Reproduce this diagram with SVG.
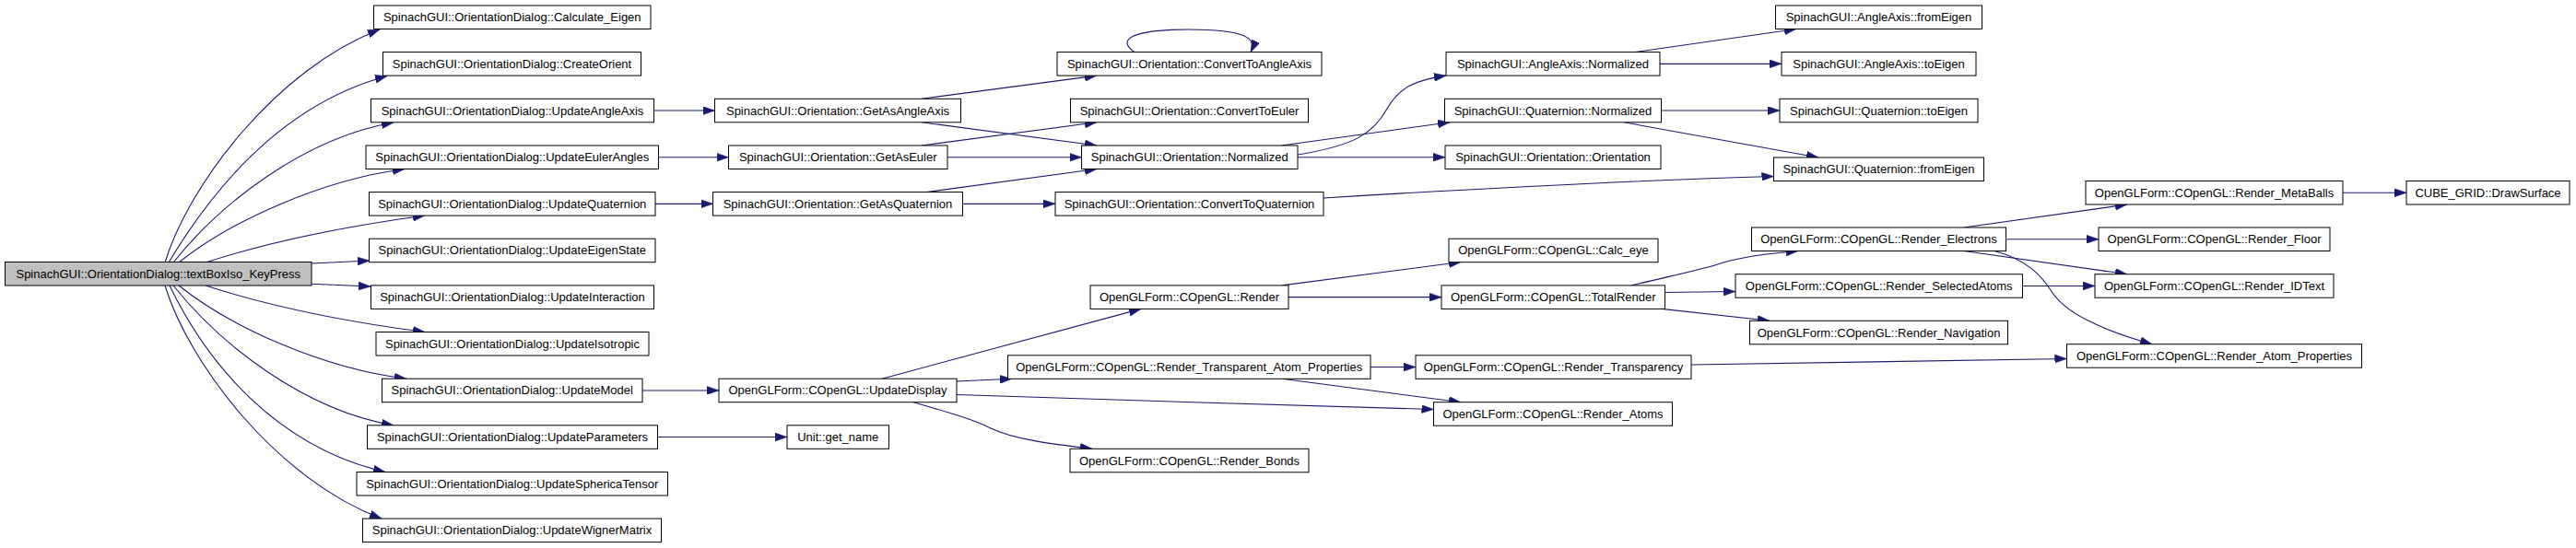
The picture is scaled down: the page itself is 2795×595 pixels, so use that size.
<svg xmlns="http://www.w3.org/2000/svg" width="2795" height="595" viewBox="0 0 2795 595">
<style>
.n rect{fill:#ffffff;stroke:#000000;stroke-width:1}
.n.root rect{fill:#bfbfbf}
.n text{font-family:"Liberation Sans",Arial,sans-serif;font-size:13px;fill:#000000;text-anchor:middle}
.e path{fill:none;stroke:#191970;stroke-width:1.1;marker-end:url(#arr)}
</style>
<defs>
<marker id="arr" markerUnits="userSpaceOnUse" markerWidth="13" markerHeight="9" refX="13" refY="4.5" orient="auto" viewBox="0 0 13 9">
<path d="M0,0 L13,4.5 L0,9 z" fill="#191970" stroke="#191970" stroke-width="0.5"/>
</marker>
</defs>
<rect x="0" y="0" width="2795" height="595" fill="#ffffff"/>
<g id="edges" class="e">
<path d="M179,285 C205,200 300,75 412,32"/>
<path d="M183,285 C225,215 300,115 420,82.5"/>
<path d="M188,285 C240,220 330,150 427,133"/>
<path d="M194,285 C250,240 350,195 439,183.5"/>
<path d="M223,285 C300,260 380,245 461,234"/>
<path d="M338,286 L401,283"/>
<path d="M338,308.3 L402,311"/>
<path d="M223,310 C300,335 380,350 461,360.5"/>
<path d="M194,310 C250,355 350,400 441,411.2"/>
<path d="M188,310 C240,375 330,445 427,461.8"/>
<path d="M184,310 C225,395 300,485 418,512.5"/>
<path d="M179,310 C205,395 300,520 414,563.1"/>
<path d="M709.5,120.05 L775.5,120.05"/>
<path d="M714.5,170.75 L790.5,170.75"/>
<path d="M711,221.35 L773.5,221.35"/>
<path d="M697,423.95 L780,423.95"/>
<path d="M713.5,474.55 L854,474.55"/>
<path d="M1000,107.3 L1190,82.1"/>
<path d="M1000,132.8 L1190,158"/>
<path d="M1000,158 L1190,132.8"/>
<path d="M1028,170.75 L1173.5,170.75"/>
<path d="M1005,208.6 L1190,183.5"/>
<path d="M1044.5,221.35 L1145,221.35"/>
<path d="M1231,56.6 C1212,44 1225,32 1290,32 C1352,32 1364,42 1357,56.6"/>
<path d="M1408,168 C1470,158 1490,145 1505,118 C1518,95 1535,87 1569,82.1"/>
<path d="M1390.5,158 L1573,132.8"/>
<path d="M1408,170.75 L1568,170.75"/>
<path d="M1436,215 C1600,205 1800,195 1924.5,191.5"/>
<path d="M1774,56.6 L1949,31.5"/>
<path d="M1801,69.35 L1933,69.35"/>
<path d="M1802.5,120.05 L1931,120.05"/>
<path d="M1762,132.8 L1973,171"/>
<path d="M957,411.2 L1238,335.4"/>
<path d="M1038,414 L1098,411.3"/>
<path d="M1038,428.5 C1200,434 1400,440 1555.5,444.5"/>
<path d="M1391,411.3 L1585,436.7"/>
<path d="M1487,398.55 L1536,398.55"/>
<path d="M991,436.7 C1030,448 1055,455 1075,465 C1100,477 1140,482 1185,487.3"/>
<path d="M1391,309.9 L1585,284.5"/>
<path d="M1398,322.65 L1564,322.65"/>
<path d="M1770,309.9 C1820,298 1850,292 1870,285 C1890,279 1920,275 1951,272.5"/>
<path d="M1806.5,317.5 L1883,316.5"/>
<path d="M1803,335.4 L1920,348.3"/>
<path d="M1835,396 C2000,393 2150,390 2242.5,389.5"/>
<path d="M2131,247 L2308,222"/>
<path d="M2176.5,259.75 L2277,259.75"/>
<path d="M2131,272.5 L2308,297.7"/>
<path d="M2164,272.5 C2200,282 2215,300 2225,315 C2240,340 2280,358 2335,373.7"/>
<path d="M2194.5,310.45 L2273,310.45"/>
<path d="M2542,209.25 L2611,209.25"/>
</g>
<g id="n_root" class="n root"><rect x="5.5" y="284.5" width="332.5" height="25.5"/><text x="171.75" y="301.7">SpinachGUI::OrientationDialog::textBoxIso_KeyPress</text></g>
<g id="n_calc" class="n"><rect x="405.5" y="6" width="300.5" height="25.5"/><text x="555.75" y="23.2">SpinachGUI::OrientationDialog::Calculate_Eigen</text></g>
<g id="n_create" class="n"><rect x="415.5" y="56.6" width="280" height="25.5"/><text x="555.5" y="73.8">SpinachGUI::OrientationDialog::CreateOrient</text></g>
<g id="n_uaa" class="n"><rect x="402.5" y="107.3" width="307" height="25.5"/><text x="556" y="124.5">SpinachGUI::OrientationDialog::UpdateAngleAxis</text></g>
<g id="n_uea" class="n"><rect x="397" y="158" width="317.5" height="25.5"/><text x="555.75" y="175.2">SpinachGUI::OrientationDialog::UpdateEulerAngles</text></g>
<g id="n_uq" class="n"><rect x="400.5" y="208.6" width="310.5" height="25.5"/><text x="555.75" y="225.8">SpinachGUI::OrientationDialog::UpdateQuaternion</text></g>
<g id="n_ues" class="n"><rect x="400.5" y="259.2" width="310.5" height="25.5"/><text x="555.75" y="276.4">SpinachGUI::OrientationDialog::UpdateEigenState</text></g>
<g id="n_ui" class="n"><rect x="402.5" y="309.9" width="307" height="25.5"/><text x="556" y="327.1">SpinachGUI::OrientationDialog::UpdateInteraction</text></g>
<g id="n_uiso" class="n"><rect x="408" y="360.5" width="296" height="25.5"/><text x="556" y="377.7">SpinachGUI::OrientationDialog::UpdateIsotropic</text></g>
<g id="n_um" class="n"><rect x="414.5" y="411.2" width="282.5" height="25.5"/><text x="555.75" y="428.4">SpinachGUI::OrientationDialog::UpdateModel</text></g>
<g id="n_up" class="n"><rect x="398.5" y="461.8" width="315" height="25.5"/><text x="556" y="479">SpinachGUI::OrientationDialog::UpdateParameters</text></g>
<g id="n_ust" class="n"><rect x="387" y="512.5" width="337.5" height="25.5"/><text x="555.75" y="529.7">SpinachGUI::OrientationDialog::UpdateSphericaTensor</text></g>
<g id="n_uwm" class="n"><rect x="393.5" y="563.1" width="324" height="25.5"/><text x="555.5" y="580.3">SpinachGUI::OrientationDialog::UpdateWignerMatrix</text></g>
<g id="n_gaa" class="n"><rect x="775.5" y="107.3" width="267" height="25.5"/><text x="909" y="124.5">SpinachGUI::Orientation::GetAsAngleAxis</text></g>
<g id="n_gae" class="n"><rect x="790.5" y="158" width="237.5" height="25.5"/><text x="909.25" y="175.2">SpinachGUI::Orientation::GetAsEuler</text></g>
<g id="n_gaq" class="n"><rect x="773.5" y="208.6" width="271" height="25.5"/><text x="909" y="225.8">SpinachGUI::Orientation::GetAsQuaternion</text></g>
<g id="n_ud" class="n"><rect x="780" y="411.2" width="258" height="25.5"/><text x="909" y="428.4">OpenGLForm::COpenGL::UpdateDisplay</text></g>
<g id="n_gn" class="n"><rect x="854" y="461.8" width="110.5" height="25.5"/><text x="909.25" y="479">Unit::get_name</text></g>
<g id="n_ctaa" class="n"><rect x="1147" y="56.6" width="287" height="25.5"/><text x="1290.5" y="73.8">SpinachGUI::Orientation::ConvertToAngleAxis</text></g>
<g id="n_cte" class="n"><rect x="1161.5" y="107.3" width="258" height="25.5"/><text x="1290.5" y="124.5">SpinachGUI::Orientation::ConvertToEuler</text></g>
<g id="n_on" class="n"><rect x="1173.5" y="158" width="234.5" height="25.5"/><text x="1290.75" y="175.2">SpinachGUI::Orientation::Normalized</text></g>
<g id="n_ctq" class="n"><rect x="1145" y="208.6" width="291" height="25.5"/><text x="1290.5" y="225.8">SpinachGUI::Orientation::ConvertToQuaternion</text></g>
<g id="n_render" class="n"><rect x="1183" y="309.9" width="215" height="25.5"/><text x="1290.5" y="327.1">OpenGLForm::COpenGL::Render</text></g>
<g id="n_rtap" class="n"><rect x="1093.5" y="385.8" width="393.5" height="25.5"/><text x="1290.25" y="403">OpenGLForm::COpenGL::Render_Transparent_Atom_Properties</text></g>
<g id="n_rb" class="n"><rect x="1161" y="487.3" width="259" height="25.5"/><text x="1290.5" y="504.5">OpenGLForm::COpenGL::Render_Bonds</text></g>
<g id="n_aan" class="n"><rect x="1569" y="56.6" width="232" height="25.5"/><text x="1685" y="73.8">SpinachGUI::AngleAxis::Normalized</text></g>
<g id="n_qn" class="n"><rect x="1567.5" y="107.3" width="235" height="25.5"/><text x="1685" y="124.5">SpinachGUI::Quaternion::Normalized</text></g>
<g id="n_oo" class="n"><rect x="1568" y="158" width="234" height="25.5"/><text x="1685" y="175.2">SpinachGUI::Orientation::Orientation</text></g>
<g id="n_ce" class="n"><rect x="1572" y="259.2" width="227" height="25.5"/><text x="1685.5" y="276.4">OpenGLForm::COpenGL::Calc_eye</text></g>
<g id="n_tr" class="n"><rect x="1564" y="309.9" width="242.5" height="25.5"/><text x="1685.25" y="327.1">OpenGLForm::COpenGL::TotalRender</text></g>
<g id="n_rt" class="n"><rect x="1536" y="385.8" width="299" height="25.5"/><text x="1685.5" y="403">OpenGLForm::COpenGL::Render_Transparency</text></g>
<g id="n_ra" class="n"><rect x="1555.5" y="436.7" width="259" height="25.5"/><text x="1685" y="453.9">OpenGLForm::COpenGL::Render_Atoms</text></g>
<g id="n_aafe" class="n"><rect x="1926.5" y="6" width="224" height="25.5"/><text x="2038.5" y="23.2">SpinachGUI::AngleAxis::fromEigen</text></g>
<g id="n_aate" class="n"><rect x="1933" y="56.6" width="211" height="25.5"/><text x="2038.5" y="73.8">SpinachGUI::AngleAxis::toEigen</text></g>
<g id="n_qte" class="n"><rect x="1931" y="107.3" width="215" height="25.5"/><text x="2038.5" y="124.5">SpinachGUI::Quaternion::toEigen</text></g>
<g id="n_qfe" class="n"><rect x="1924.5" y="171" width="228" height="25.5"/><text x="2038.5" y="188.2">SpinachGUI::Quaternion::fromEigen</text></g>
<g id="n_re" class="n"><rect x="1900.5" y="247" width="276" height="25.5"/><text x="2038.5" y="264.2">OpenGLForm::COpenGL::Render_Electrons</text></g>
<g id="n_rsa" class="n"><rect x="1883" y="297.7" width="311.5" height="25.5"/><text x="2038.75" y="314.9">OpenGLForm::COpenGL::Render_SelectedAtoms</text></g>
<g id="n_rn" class="n"><rect x="1898.5" y="348.3" width="280" height="25.5"/><text x="2038.5" y="365.5">OpenGLForm::COpenGL::Render_Navigation</text></g>
<g id="n_rmb" class="n"><rect x="2263" y="196.5" width="279" height="25.5"/><text x="2402.5" y="213.7">OpenGLForm::COpenGL::Render_MetaBalls</text></g>
<g id="n_rf" class="n"><rect x="2277" y="247" width="251" height="25.5"/><text x="2402.5" y="264.2">OpenGLForm::COpenGL::Render_Floor</text></g>
<g id="n_rid" class="n"><rect x="2273" y="297.7" width="259" height="25.5"/><text x="2402.5" y="314.9">OpenGLForm::COpenGL::Render_IDText</text></g>
<g id="n_rap" class="n"><rect x="2242.5" y="373.7" width="320" height="25.5"/><text x="2402.5" y="390.9">OpenGLForm::COpenGL::Render_Atom_Properties</text></g>
<g id="n_ds" class="n"><rect x="2611" y="196.5" width="177" height="25.5"/><text x="2699.5" y="213.7">CUBE_GRID::DrawSurface</text></g>
</svg>
